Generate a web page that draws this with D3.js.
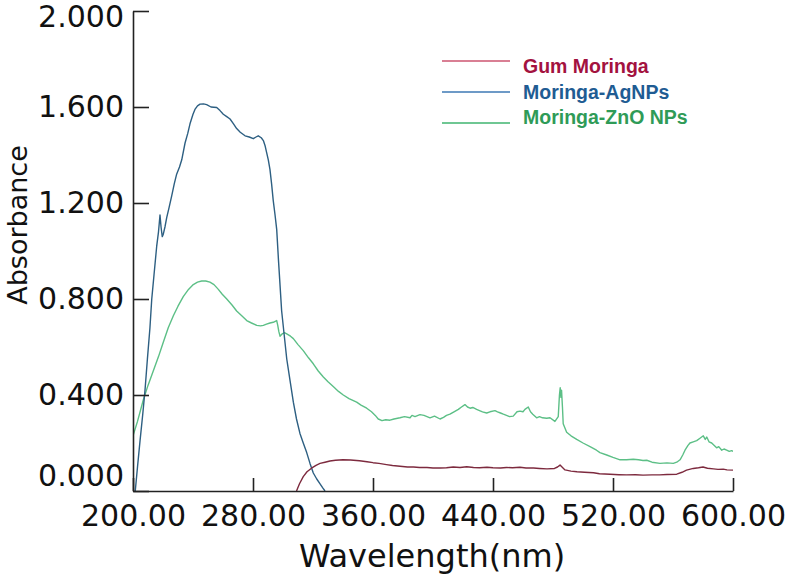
<!DOCTYPE html>
<html><head><meta charset="utf-8">
<script src="https://cdn.jsdelivr.net/npm/d3@7"></script>
<style>body{margin:0;background:#fff;} svg{display:block}</style>
</head><body><svg id="c" width="787" height="583"></svg>
<script>
// ---- data ----
const seriesNames = ["Gum Moringa", "Moringa-AgNPs", "Moringa-ZnO NPs"];
const lineColors = ["#7d2a3e", "#2d5f82", "#5cbf86"];
const legendLineColors = ["#cc5570", "#3d79b5", "#3fb56f"];
const legendTextColors = ["#a3123f", "#1f5c93", "#2f9b57"];
const xTicks = [200, 280, 360, 440, 520, 600];
const yTicks = [0, 0.4, 0.8, 1.2, 1.6, 2.0];

const gumMoringa = [[309,0],[311,0.03],[313.5,0.06],[316,0.08],[319,0.095],[322,0.107],[324.7,0.115],[328,0.12],[331.3,0.125],[335,0.128],[340,0.13],[345,0.129],[351,0.126],[356,0.122],[360,0.118],[364,0.115],[369,0.11],[373,0.106],[378,0.103],[383,0.1],[387,0.1],[391,0.098],[396,0.098],[400,0.096],[405,0.096],[409,0.097],[413.5,0.1],[418,0.098],[422.5,0.101],[427,0.098],[431,0.097],[436,0.099],[440,0.097],[445,0.096],[449,0.098],[453,0.097],[458,0.099],[462,0.096],[467,0.096],[471,0.094],[476,0.092],[481,0.094],[483,0.1],[484.7,0.108],[486.5,0.097],[488,0.088],[492,0.083],[496,0.08],[501,0.078],[507,0.076],[511,0.072],[518,0.07],[524,0.068],[529,0.067],[535,0.068],[540,0.066],[546,0.067],[551,0.067],[556,0.069],[562.5,0.07],[566,0.078],[569,0.087],[573.5,0.094],[577,0.097],[580,0.1],[583,0.095],[587,0.092],[590,0.09],[593.5,0.091],[596,0.088],[600,0.087]];

const agNPs = [[201.5,0],[203,0.1],[204.7,0.21],[206.5,0.32],[208,0.42],[209.6,0.55],[211.3,0.68],[212.5,0.8],[214,0.9],[215.8,1.02],[217,1.08],[218,1.15],[218.7,1.1],[219.5,1.06],[220.2,1.07],[221.3,1.1],[222.5,1.14],[224,1.18],[225.8,1.23],[227.5,1.28],[229.1,1.32],[231,1.35],[232.5,1.38],[234.7,1.45],[236.5,1.49],[238,1.53],[240,1.57],[241.3,1.59],[243,1.605],[244.7,1.612],[247,1.613],[249.1,1.61],[252,1.6],[255.8,1.598],[258,1.585],[260.2,1.57],[262.5,1.56],[264.7,1.55],[267,1.53],[269.1,1.51],[271.5,1.495],[274.7,1.48],[277.5,1.475],[280.2,1.468],[282,1.475],[283.5,1.48],[285.5,1.472],[286.9,1.46],[288,1.44],[289.1,1.41],[290.2,1.38],[291.3,1.34],[292.4,1.28],[293.5,1.21],[294.7,1.15],[295.8,1.09],[297,0.96],[298,0.86],[299.1,0.75],[300.8,0.65],[302.5,0.55],[304.7,0.46],[306.9,0.37],[309,0.3],[311.3,0.24],[313.5,0.2],[315.8,0.16],[318,0.115],[320.2,0.075],[322.5,0.05],[324.7,0.03],[326.5,0.013],[328,0]];

const znoNPs = [[200,0.23],[203,0.29],[206.9,0.38],[210,0.44],[213.5,0.5],[217,0.56],[220.2,0.62],[223.5,0.68],[226.9,0.73],[230,0.77],[233.5,0.81],[237,0.84],[240.2,0.86],[243,0.87],[245.8,0.875],[248.5,0.875],[251.3,0.87],[254,0.86],[256.9,0.84],[259.5,0.82],[262.5,0.8],[266,0.775],[269.1,0.75],[272.5,0.73],[275.8,0.71],[279,0.7],[282.5,0.69],[285,0.688],[286.9,0.69],[289,0.695],[291.3,0.7],[293.5,0.703],[295.8,0.71],[296.5,0.69],[297.2,0.665],[298,0.645],[299.5,0.655],[301,0.66],[302.5,0.655],[305,0.645],[306.9,0.635],[310,0.61],[313.5,0.585],[317,0.555],[320.2,0.53],[323.5,0.5],[326.9,0.475],[330,0.455],[333.5,0.435],[337,0.415],[340.2,0.4],[344,0.385],[349.1,0.37],[352,0.358],[355.8,0.345],[359,0.33],[361.5,0.315],[363.5,0.3],[366,0.293],[368.5,0.297],[371.3,0.295],[374,0.3],[378,0.305],[381,0.31],[384.7,0.305],[386,0.315],[388,0.31],[391.3,0.318],[394,0.315],[396,0.31],[398,0.305],[401,0.312],[404.7,0.3],[407,0.307],[409,0.315],[411.3,0.32],[414,0.33],[416.9,0.34],[419,0.35],[421.3,0.36],[423,0.35],[424.7,0.345],[426.5,0.348],[429.1,0.34],[431,0.335],[433,0.33],[435.8,0.325],[438,0.33],[441.3,0.335],[443,0.33],[445,0.325],[446.9,0.32],[449,0.315],[451,0.31],[453.5,0.312],[456,0.33],[458,0.333],[460,0.33],[461.3,0.34],[463.5,0.35],[465,0.33],[466.5,0.32],[469.1,0.305],[471,0.31],[473,0.305],[475.8,0.303],[478,0.305],[481.3,0.29],[483.5,0.31],[484.3,0.4],[484.8,0.43],[485.3,0.39],[485.7,0.42],[486.3,0.35],[486.8,0.28],[489.1,0.245],[492,0.23],[495.8,0.215],[500,0.2],[504.7,0.185],[509,0.17],[511.3,0.16],[515.8,0.15],[520,0.14],[524.7,0.13],[529,0.13],[533.5,0.132],[537,0.13],[540,0.127],[542.5,0.128],[546,0.12],[551.3,0.115],[556,0.117],[560.2,0.115],[562.5,0.12],[564.7,0.13],[566.5,0.15],[568,0.17],[570,0.19],[571.3,0.2],[573.5,0.205],[575.8,0.21],[578,0.22],[580.2,0.23],[581.5,0.215],[582.5,0.225],[584,0.205],[585.8,0.2],[587.5,0.19],[589.1,0.18],[590.5,0.185],[592.5,0.17],[594,0.175],[595.8,0.17],[597.5,0.165],[599.1,0.168],[600,0.165]];

const seriesData = [gumMoringa, agNPs, znoNPs];

// ---- chart ----
const svg = d3.select("#c");
const x = d3.scaleLinear().domain([200, 600]).range([133, 733]);
const y = d3.scaleLinear().domain([0, 2]).range([491, 11]);

svg.append("clipPath").attr("id", "plotclip")
  .append("rect").attr("x", 133).attr("y", 11).attr("width", 600).attr("height", 480);

const line = d3.line().x(d => x(d[0])).y(d => y(d[1]));
const plot = svg.append("g").attr("clip-path", "url(#plotclip)");
[2, 1, 0].forEach(i => {
  plot.append("path").datum(seriesData[i])
    .attr("fill", "none")
    .attr("stroke", lineColors[i])
    .attr("stroke-width", 1.4)
    .attr("stroke-linejoin", "round")
    .attr("d", line);
});

const font = "'DejaVu Sans', Verdana, sans-serif";

// y axis
const yAxis = svg.append("g").attr("transform", "translate(133,0)")
  .call(d3.axisLeft(y).tickValues(yTicks).tickSizeInner(-16).tickSizeOuter(0)
    .tickPadding(9).tickFormat(d3.format(".3f")));
yAxis.selectAll("text")
  .attr("y", d => Math.min(Math.max(y(d), 17), 476) - y(d))
  .style("font-family", font).style("font-size", "30px").attr("fill", "#111");

// x axis
const xAxis = svg.append("g").attr("transform", "translate(0,491)")
  .call(d3.axisBottom(x).tickValues(xTicks).tickSizeInner(-13).tickSizeOuter(0)
    .tickPadding(14).tickFormat(d3.format(".2f")));
xAxis.selectAll("text")
  .style("font-family", font).style("font-size", "30px").attr("fill", "#111");

svg.selectAll(".domain, .tick line").attr("stroke", "#222").attr("stroke-width", 1.6);

// axis titles
svg.append("text").attr("x", 432).attr("y", 567).attr("text-anchor", "middle")
  .style("font-family", font).style("font-size", "32px").attr("fill", "#111")
  .text("Wavelength(nm)");
svg.append("text").attr("transform", "translate(27,225) rotate(-90)").attr("text-anchor", "middle")
  .style("font-family", font).style("font-size", "27px").attr("fill", "#111")
  .text("Absorbance");

// legend
const legY = [61, 92, 123];
const legTextY = [72.5, 98.5, 124];
seriesNames.forEach((name, i) => {
  svg.append("line").attr("x1", 442).attr("x2", 510).attr("y1", legY[i]).attr("y2", legY[i])
    .attr("stroke", legendLineColors[i]).attr("stroke-width", 1.5);
  svg.append("text").attr("x", 523).attr("y", legTextY[i])
    .style("font-family", "'Liberation Sans', Arial, sans-serif").style("font-weight", "bold")
    .style("font-size", "19.5px").attr("fill", legendTextColors[i]).text(name);
});
</script></body></html>
